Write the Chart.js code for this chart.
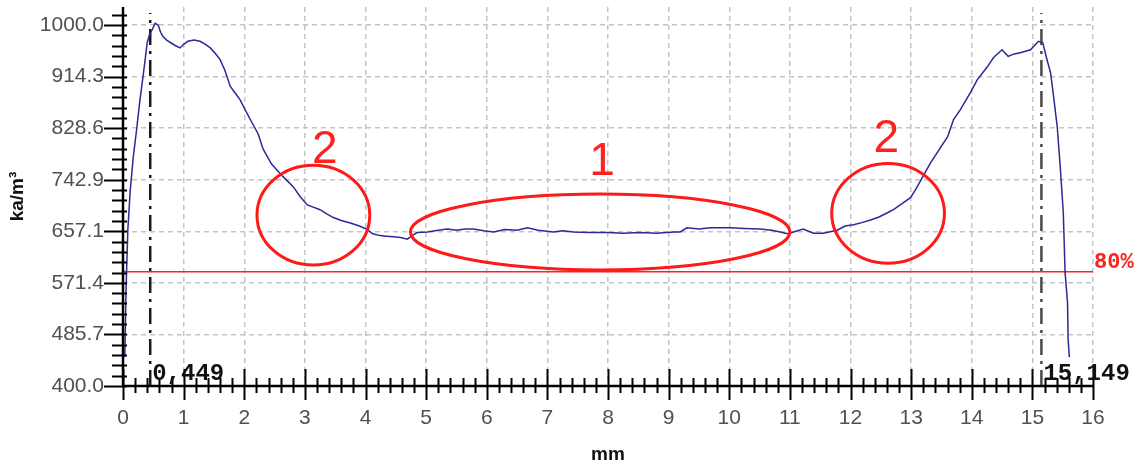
<!DOCTYPE html>
<html>
<head>
<meta charset="utf-8">
<script src="https://cdn.jsdelivr.net/npm/chart.js@4.4.0/dist/chart.umd.min.js"></script>
<style>
  html, body { margin: 0; padding: 0; background: #fff; }
  #wrap { width: 1141px; height: 466px; }
</style>
</head>
<body>
<div id="wrap"><canvas id="profile"></canvas></div>
<script>
// density profile
const positionMm = [
  0.03, 0.05, 0.08, 0.12, 0.17, 0.23, 0.28, 0.33, 0.40, 0.44, 0.48, 0.53, 0.58, 0.62, 0.66, 0.72,
  0.78, 0.86, 0.94, 1.00, 1.07, 1.17, 1.27, 1.36, 1.44, 1.52, 1.60, 1.68, 1.77, 1.85, 1.93, 2.02,
  2.10, 2.23, 2.31, 2.45, 2.64, 2.81, 2.92, 3.04, 3.15, 3.25, 3.36, 3.47, 3.60, 3.75, 3.90, 4.03,
  4.12, 4.24, 4.35, 4.46, 4.58, 4.69, 4.77, 4.85, 5.02, 5.20, 5.35, 5.50, 5.65, 5.78, 5.95, 6.11,
  6.30, 6.50, 6.67, 6.85, 7.10, 7.25, 7.43, 7.70, 7.99, 8.25, 8.53, 8.80, 9.08, 9.19, 9.30, 9.50,
  9.69, 10.02, 10.25, 10.51, 10.70, 10.84, 10.96, 11.06, 11.22, 11.39, 11.55, 11.78, 11.91, 12.05, 12.20, 12.33,
  12.47, 12.61, 12.72, 12.82, 12.99, 13.07, 13.15, 13.32, 13.43, 13.60, 13.70, 13.81, 13.98, 14.09, 14.26, 14.36,
  14.50, 14.60, 14.70, 14.80, 14.97, 15.10, 15.17, 15.25, 15.30, 15.35, 15.41, 15.46, 15.51, 15.54, 15.58, 15.59,
  15.61
];
const density = [
  448, 560, 660, 726, 781, 831, 876, 914, 971, 985, 992, 1003, 1000, 988, 981, 975,
  971, 966, 962, 968, 973, 975, 973, 968, 962, 953, 943, 925, 898, 887, 876, 858,
  843, 819, 794, 769, 748, 731, 715, 701, 697, 693, 686, 680, 675, 671, 666, 660,
  653, 650, 649, 648, 647, 644, 650, 655, 656, 659, 661, 659, 661, 661, 658, 656,
  660, 659, 663, 659, 656, 658, 656, 655, 655, 654, 655, 654, 656, 656, 663, 661,
  663, 663, 662, 661, 659, 656, 653, 656, 661, 654, 654, 659, 666, 668, 672, 676,
  681, 688, 694, 701, 713, 726, 740, 771, 788, 814, 843, 859, 888, 909, 931, 946,
  959, 948, 952, 954, 959, 973, 971, 939, 921, 881, 831, 764, 688, 588, 538, 477,
  448
];

const xTicks = [0, 1, 2, 3, 4, 5, 6, 7, 8, 9, 10, 11, 12, 13, 14, 15, 16];
const yTicks = [400, 485.714, 571.429, 657.143, 742.857, 828.571, 914.286, 1000];
const yTickLabels = ['400.0', '485.7', '571.4', '657.1', '742.9', '828.6', '914.3', '1000.0'];

const limitLevel = 590;          // 80 % line
const limitLabel = '80%';
const edgeMarks = [0.449, 15.149];
const edgeLabels = ['0,449', '15,149'];

// red zones drawn over the chart (mm / kg per m3)
const zones = [
  { text: '2', cx: 3.14, cy: 684, rx: 0.93, ry: 83, tx: 3.33, ty: 792 },
  { text: '1', cx: 7.87, cy: 656, rx: 3.13, ry: 63, tx: 7.90, ty: 771 },
  { text: '2', cx: 12.62, cy: 687, rx: 0.93, ry: 83, tx: 12.59, ty: 810 }
];

const SANS = '"Liberation Sans", Arial, sans-serif';
const MONO = '"Liberation Mono", "Courier New", monospace';

const overlay = {
  id: 'overlay',
  afterDraw(chart) {
    const { ctx, chartArea } = chart;
    const x = chart.scales.x, y = chart.scales.y;
    const x0 = x.left, yb = y.bottom;
    ctx.save();

    // axis lines
    ctx.strokeStyle = '#000';
    ctx.lineWidth = 2.5;
    ctx.beginPath();
    ctx.moveTo(x0, chartArea.top);
    ctx.lineTo(x0, yb);
    ctx.lineTo(x.right, yb);
    ctx.stroke();

    // y ticks, 5 per interval
    ctx.lineWidth = 2;
    const yStep = (yTicks[1] - yTicks[0]) / 5;
    for (let i = 0; yTicks[0] + i * yStep <= y.max; i++) {
      const py = Math.round(y.getPixelForValue(yTicks[0] + i * yStep)) + 0.5;
      const major = i % 5 === 0;
      ctx.beginPath();
      ctx.moveTo(x0 - (major ? 19 : 11), py);
      ctx.lineTo(x0 + 4, py);
      ctx.stroke();
    }
    // x ticks, every 0.2 mm
    for (let i = 0; i <= 80; i++) {
      const px = Math.round(x.getPixelForValue(i * 0.2)) + 0.5;
      const major = i % 5 === 0;
      ctx.beginPath();
      ctx.moveTo(px, yb - (major ? 17 : 8));
      ctx.lineTo(px, yb + (major ? 14 : 7));
      ctx.stroke();
    }

    // edge values
    ctx.fillStyle = '#111';
    ctx.font = 'bold 24px ' + MONO;
    ctx.textAlign = 'left';
    ctx.textBaseline = 'alphabetic';
    edgeMarks.forEach((m, i) => {
      ctx.fillText(edgeLabels[i], x.getPixelForValue(m) + 2, yb - 6);
    });

    // 80% label
    ctx.fillStyle = '#ff2020';
    ctx.font = 'bold 22px ' + MONO;
    ctx.fillText(limitLabel, x.right + 1, y.getPixelForValue(limitLevel) - 4);

    // zones
    ctx.strokeStyle = '#ff1a1a';
    ctx.lineWidth = 3;
    ctx.font = '46px ' + SANS;
    ctx.textAlign = 'center';
    ctx.textBaseline = 'middle';
    zones.forEach(z => {
      const cx = x.getPixelForValue(z.cx), cy = y.getPixelForValue(z.cy);
      const rx = x.getPixelForValue(z.cx + z.rx) - cx;
      const ry = cy - y.getPixelForValue(z.cy + z.ry);
      ctx.beginPath();
      ctx.ellipse(cx, cy, rx, ry, 0, 0, Math.PI * 2);
      ctx.stroke();
      ctx.fillText(z.text, x.getPixelForValue(z.tx), y.getPixelForValue(z.ty));
    });
    ctx.restore();
  }
};

new Chart(document.getElementById('profile'), {
  type: 'line',
  data: {
    datasets: [
      {
        data: positionMm.map((v, i) => ({ x: v, y: density[i] })),
        borderColor: '#2a2a96',
        borderWidth: 1.5,
        pointRadius: 0,
        tension: 0
      },
      {
        data: [{ x: 0, y: limitLevel }, { x: 16, y: limitLevel }],
        borderColor: '#ff2020',
        borderWidth: 1.5,
        pointRadius: 0
      },
      ...edgeMarks.map((m, i) => ({
        data: [{ x: m, y: 400 }, { x: m, y: 1020 }],
        borderColor: i === 0 ? '#1a1a1a' : '#4a4a4a',
        borderWidth: 2.5,
        borderDash: [16, 6, 3, 6],
        pointRadius: 0
      }))
    ]
  },
  options: {
    responsive: true,
    maintainAspectRatio: false,
    animation: false,
    devicePixelRatio: 1,
    layout: { padding: { top: 7, right: 48, left: 0, bottom: 0 } },
    plugins: { legend: { display: false }, tooltip: { enabled: false } },
    scales: {
      x: {
        type: 'linear',
        min: 0,
        max: 16,
        afterBuildTicks: s => { s.ticks = xTicks.map(v => ({ value: v })); },
        afterFit: s => { s.height = 80; s.paddingLeft = 0; s.paddingRight = 0; },
        grid: { color: '#c4c4c4', lineWidth: 1.5, drawTicks: false },
        border: { display: false, dash: [5, 4] },
        ticks: {
          color: '#505050',
          padding: 20,
          maxRotation: 0,
          font: { family: SANS, size: 21 }
        },
        title: {
          display: true,
          text: 'mm',
          color: '#111',
          padding: { top: 0, bottom: 0 },
          font: { family: SANS, size: 19, weight: 'bold' }
        }
      },
      y: {
        type: 'linear',
        min: 400,
        max: 1030,
        afterBuildTicks: s => { s.ticks = yTicks.map(v => ({ value: v })); },
        afterFit: s => { s.width = 123; s.paddingTop = 0; s.paddingBottom = 0; },
        grid: { color: '#c4c4c4', lineWidth: 1.5, drawTicks: false },
        border: { display: false, dash: [5, 4] },
        ticks: {
          color: '#505050',
          padding: 19,
          font: { family: SANS, size: 21 },
          callback: (v) => yTickLabels[yTicks.findIndex(t => Math.abs(t - v) < 0.01)]
        },
        title: {
          display: true,
          text: 'ka/m³',
          color: '#111',
          padding: { top: 6, bottom: 0 },
          font: { family: SANS, size: 19, weight: 'bold' }
        }
      }
    }
  },
  plugins: [overlay]
});
</script>
</body>
</html>
